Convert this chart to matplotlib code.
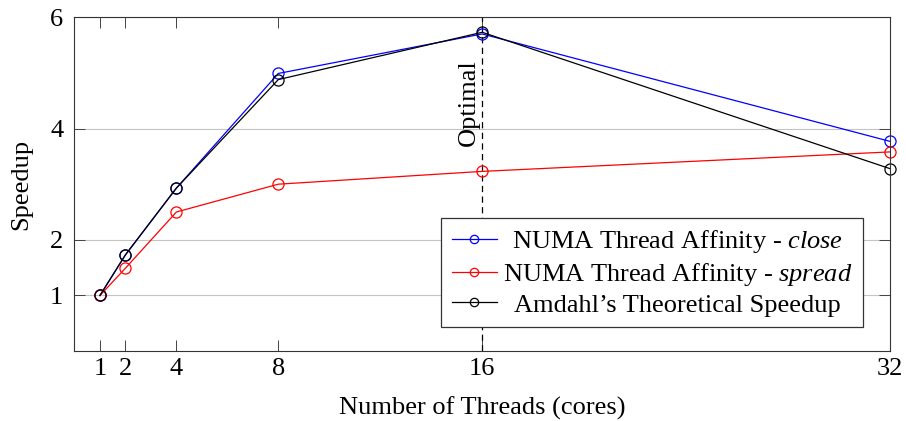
import numpy as np
import matplotlib.pyplot as plt

# data
threads = [1, 2, 4, 8, 16, 32]
close_speedup = [1.0, 1.73, 2.93, 4.99, 5.70, 3.77]
spread_speedup = [1.0, 1.49, 2.50, 3.00, 3.23, 3.58]
amdahl_speedup = [1.0, 1.73, 2.93, 4.88, 5.73, 3.28]
y_ticks = [1, 2, 4, 6]
optimal_threads = 16

plt.rcParams['font.family'] = ['Liberation Serif', 'DejaVu Serif']
plt.rcParams['mathtext.fontset'] = 'custom'
plt.rcParams['mathtext.rm'] = 'Liberation Serif'
plt.rcParams['mathtext.it'] = 'Liberation Serif:italic'
FS = 19

fig = plt.figure(figsize=(9.06, 4.21), dpi=100)
ax = fig.add_axes([0.0822, 0.166, 0.9000, 0.793])

line_kw = dict(marker='o', markerfacecolor='none', markersize=8, lw=0.9,
               markeredgewidth=0.9, clip_on=False)
ax.plot(threads, close_speedup, color='#0000ff', label=r'NUMA Thread Affinity - $\mathit{close}$', **line_kw)
ax.plot(threads, spread_speedup, color='#ff0000', label=r'NUMA Thread Affinity - $\mathit{spread}$', **line_kw)
ax.plot(threads, amdahl_speedup, color='black', label='Amdahl\u2019s Theoretical Speedup', **line_kw)

# optimal marker
ax.axvline(optimal_threads, color='black', lw=0.9, ls=(0, (5, 3.5)), zorder=1.5)
ax.annotate('Optimal', xy=(optimal_threads, 4.47), xytext=(-1.5, 0), textcoords='offset points',
            rotation=90, ha='right', va='center', fontsize=FS)

ax.set_xlim(0, 32)
ax.set_ylim(0, 6)
ax.set_xticks(threads)
ax.set_yticks(y_ticks)
ax.tick_params(direction='in', length=8, width=0.7, color='#444444', labelsize=FS,
               top=True, right=True)
ax.tick_params(axis='x', pad=5)
ax.tick_params(axis='y', pad=8)
ax.yaxis.grid(True, color='#c4c4c4', lw=0.8)
ax.set_axisbelow(True)
for s in ax.spines.values():
    s.set_color('#333333')
    s.set_linewidth(0.8)

ax.set_xlabel('Number of Threads (cores)', fontsize=FS, labelpad=12)
ax.set_ylabel('Speedup', fontsize=FS, labelpad=13)

leg = ax.legend(loc='lower right', bbox_to_anchor=(0.967, 0.072), borderaxespad=0,
                fontsize=FS, fancybox=False, framealpha=1, edgecolor='#333333',
                handlelength=1.7, handletextpad=0.25, labelspacing=0.2, borderpad=0.4,
                markerscale=0.75)
leg.get_frame().set_linewidth(0.9)
leg.set_zorder(5)

# centre the legend texts like pgfplots does
fig.canvas.draw()
r = fig.canvas.get_renderer()
texts = leg.get_texts()
widths = [t.get_window_extent(r).width for t in texts]
rows = leg._legend_handle_box.get_children()[0].get_children()
for row, w in zip(rows, widths):
    row.sep = row.sep + (max(widths) - w) / 2 * 72 / fig.dpi

fig.savefig('out.png', dpi=100)
